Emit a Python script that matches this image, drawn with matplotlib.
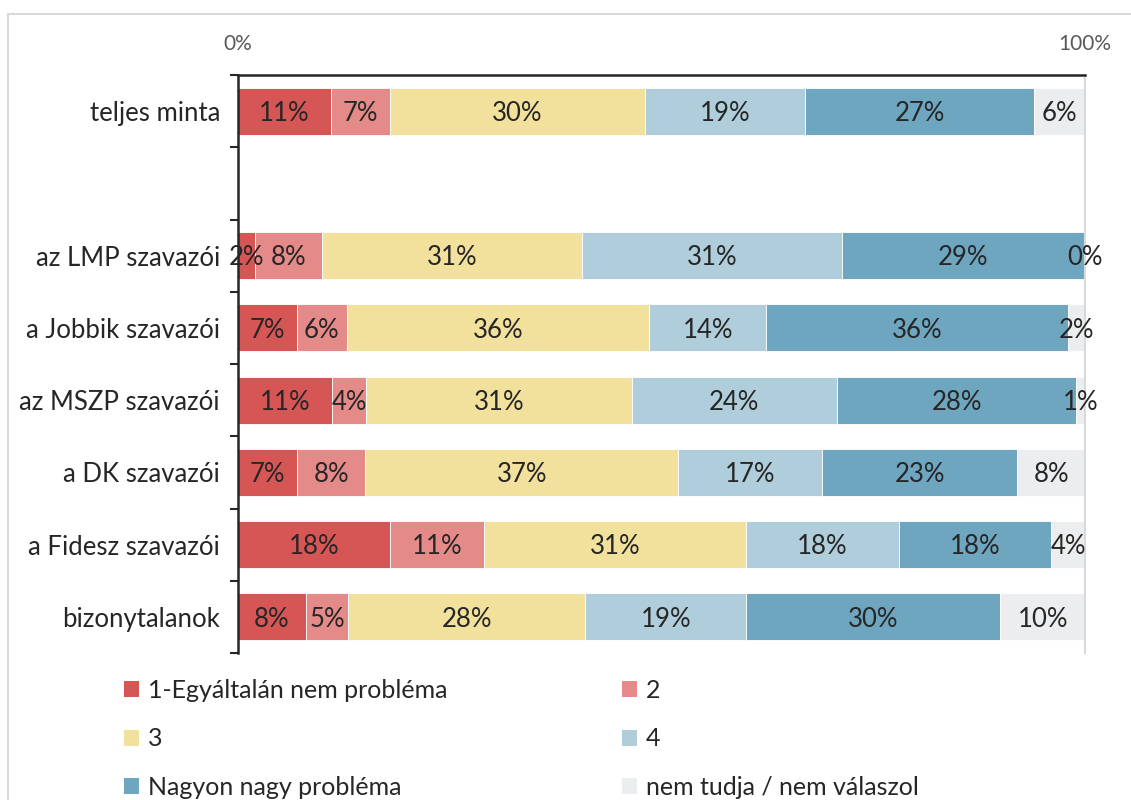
import matplotlib.pyplot as plt
from matplotlib.patches import Patch
from matplotlib.lines import Line2D

plt.rcParams['font.family'] = ['Lato', 'DejaVu Sans']

categories = ['teljes minta', '', 'az LMP szavazói', 'a Jobbik szavazói',
              'az MSZP szavazói', 'a DK szavazói', 'a Fidesz szavazói', 'bizonytalanok']
series_names = ['1-Egyáltalán nem probléma', '2', '3', '4',
                'Nagyon nagy probléma', 'nem tudja / nem válaszol']
# values per series, one per category (None = empty row)
s1 = [11, None, 2, 7, 11, 7, 18, 8]
s2 = [7, None, 8, 6, 4, 8, 11, 5]
s3 = [30, None, 31, 36, 31, 37, 31, 28]
s4 = [19, None, 31, 14, 24, 17, 18, 19]
s5 = [27, None, 29, 36, 28, 23, 18, 30]
s6 = [6, None, 0, 2, 1, 8, 4, 10]
colors = ['#D65656', '#E48B8A', '#F2E09D', '#AFCDDA', '#6EA6BF', '#ECEDEE']

series = [s1, s2, s3, s4, s5, s6]

fig = plt.figure(figsize=(11.31, 8), dpi=100)
ax = fig.add_axes([238/1131, 1-653/800, (1085-238)/1131, (653-75)/800])

for i, cat in enumerate(categories):
    vals = [s[i] for s in series]
    if vals[0] is None:
        continue
    total = sum(vals)
    left = 0.0
    for j, v in enumerate(vals):
        w = v / total * 100
        ax.barh(i, w, left=left, height=0.65, color=colors[j],
                edgecolor='white', linewidth=0.6)
        ax.text(left + w/2, i + 0.03, f'{v}%', ha='center', va='center',
                fontsize=18.5, color='#262626')
        left += w

ax.set_xlim(0, 100)
ax.set_ylim(7.5, -0.5)
ax.xaxis.tick_top()
ax.set_xticks([0, 100])
ax.set_xticklabels(['0%', '100%'], fontsize=15, color='#595959')
ax.tick_params(axis='x', length=0, pad=15)

ax.set_yticks(range(len(categories)))
ax.set_yticklabels(categories, fontsize=18.5, color='#262626')
ax.tick_params(axis='y', which='major', length=0, pad=13)
ax.set_yticks([k - 0.5 for k in range(len(categories) + 1)], minor=True)
ax.tick_params(axis='y', which='minor', length=6, width=1.5, color='#262626', direction='out')

ax.spines['bottom'].set_visible(False)
ax.spines['left'].set_linewidth(1.8)
ax.spines['left'].set_color('#262626')
ax.spines['top'].set_linewidth(1.8)
ax.spines['top'].set_color('#262626')
ax.spines['right'].set_color('#D9D9D9')
ax.spines['right'].set_linewidth(1.5)

# outer frame
fig.add_artist(Line2D([8/1131, 1], [1-14/800, 1-14/800], color='#D9D9D9', lw=1.5))
fig.add_artist(Line2D([8/1131, 8/1131], [0, 1-14/800], color='#D9D9D9', lw=1.5))

handles = [Patch(facecolor=c) for c in colors]
kw = dict(frameon=False, fontsize=18, handlelength=0.6, handleheight=0.6,
          handletextpad=0.35, labelspacing=1.02, borderpad=0, borderaxespad=0,
          labelcolor='#262626', loc='upper left')
fig.legend([handles[0], handles[2], handles[4]],
           [series_names[0], series_names[2], series_names[4]],
           bbox_to_anchor=(124/1131, 1-679/800), **kw)
fig.legend([handles[1], handles[3], handles[5]],
           [series_names[1], series_names[3], series_names[5]],
           bbox_to_anchor=(622/1131, 1-679/800), **kw)

fig.savefig('out.png', dpi=100)
